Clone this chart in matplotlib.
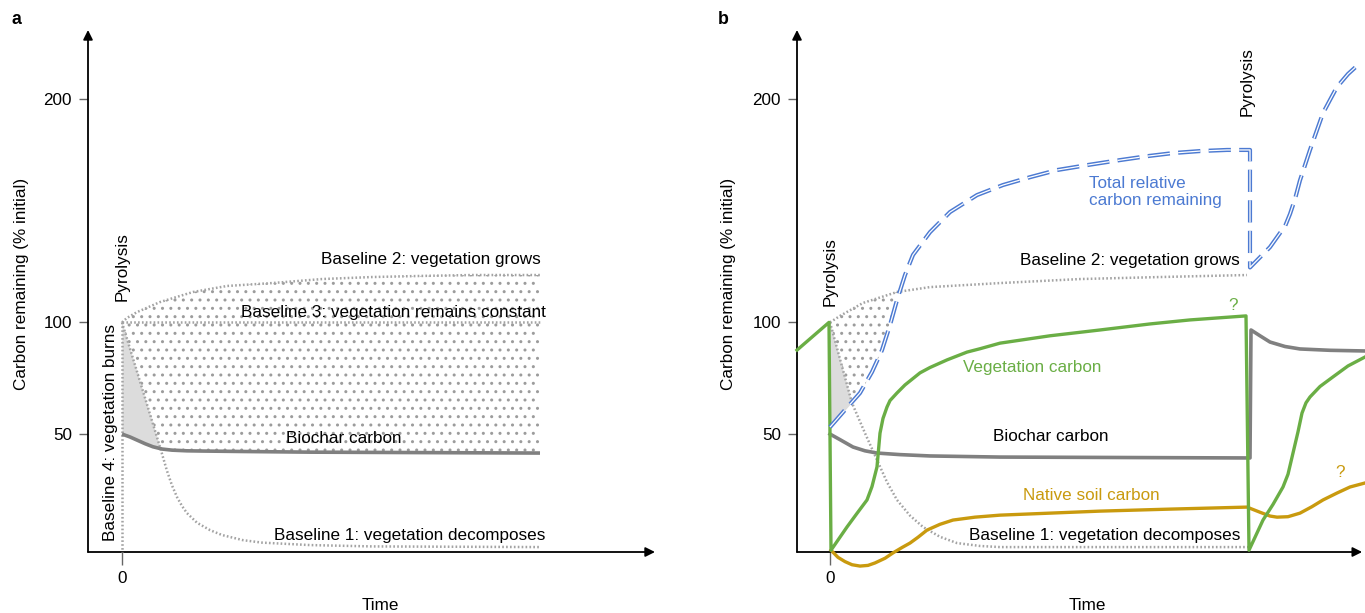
import numpy as np
import matplotlib.pyplot as plt

plt.rcParams['font.family'] = ['Liberation Sans', 'DejaVu Sans']
plt.rcParams['lines.scale_dashes'] = False

# time in arbitrary units (0 = pyrolysis), carbon in % of initial
# panel a
a_grow_t = [0, 0.05, 0.15, 0.38, 0.71, 1.05, 1.5, 2.0, 2.5, 3.0, 3.5, 4.18]
a_grow_v = [100, 102.0, 104.6, 109.1, 113.6, 116.3, 117.6, 119.4, 120.3, 120.8, 121.2, 121.2]
a_const_t = [0, 4.2]
a_const_v = [100, 100]
a_decomp_t = [0, 0.38, 0.45, 0.5, 0.55, 0.6, 0.65, 0.75, 0.88, 1.0, 1.21, 1.4, 1.88, 2.5, 4.18]
a_decomp_v = [100, 44.2, 33.5, 27.0, 21.8, 17.8, 14.6, 10.3, 7.0, 4.8, 2.5, 1.4, 0.3, -0.3, -0.6]
a_burn_t = [0, 0]
a_burn_v = [100, -2.8]
a_char_t = [0, 0.08, 0.15, 0.23, 0.31, 0.4, 0.5, 0.65, 0.8, 1.2, 1.88, 3.0, 4.18]
a_char_v = [50, 48.7, 47.3, 45.7, 44.3, 43.3, 42.8, 42.5, 42.4, 42.2, 41.9, 41.7, 41.5]

# panel b
b_grow_t = [0, 0.1, 0.33, 0.67, 1.0, 1.7, 2.5, 3.3, 4.17]
b_grow_v = [100, 102.9, 108.7, 113.6, 115.8, 117.6, 119.4, 120.3, 121.2]
b_decomp_t = [0, 0.22, 0.35, 0.47, 0.57, 0.67, 0.8, 0.93, 1.1, 1.27, 1.5, 1.7, 4.2]
b_decomp_v = [100, 63.9, 50.4, 38.4, 28.5, 20.5, 13.5, 8.4, 4.0, 1.2, -0.1, -0.6, -0.6]
b_veg_t = [-0.33, -0.01, 0.01, 0.17, 0.27, 0.37, 0.42, 0.47, 0.50, 0.53, 0.57, 0.60, 0.67,
           0.75, 0.90, 1.0, 1.17, 1.37, 1.5, 1.70, 2.2, 2.7, 3.2, 3.6, 4.16,
           4.19, 4.33, 4.43, 4.53, 4.58, 4.63, 4.68, 4.72, 4.76, 4.80, 4.9, 5.03, 5.18, 5.35]
b_veg_v = [87.6, 100, -2.0, 8.4, 14.5, 20.5, 26.5, 35.3, 50.4, 57.0, 62.1, 65.0, 68.4,
           72.0, 77.4, 79.8, 83.2, 86.7, 88.2, 90.7, 94.0, 96.6, 99.3, 101.1, 102.9,
           -2.0, 11.5, 18.5, 26.3, 32.0, 41.5, 51.0, 59.4, 64.0, 66.6, 71.3, 75.6, 80.5, 84.5]
b_char_t = [0, 0.1, 0.23, 0.35, 0.47, 0.7, 1.0, 1.7, 4.2,
            4.21, 4.3, 4.4, 4.55, 4.7, 5.0, 5.35]
b_char_v = [50, 47.5, 44.2, 42.5, 41.5, 40.8, 40.2, 39.7, 39.3,
            96.6, 94.0, 91.2, 89.2, 88.1, 87.5, 87.2]
b_soil_t = [0.01, 0.08, 0.15, 0.22, 0.30, 0.38, 0.45, 0.55, 0.63, 0.72, 0.80, 0.88, 0.97,
            1.1, 1.23, 1.45, 1.70, 2.2, 2.7, 3.4, 4.17,
            4.3, 4.4, 4.47, 4.58, 4.70, 4.82, 4.93, 5.07, 5.20, 5.35]
b_soil_v = [-2.0, -5.2, -7.1, -8.5, -9.1, -8.8, -7.7, -5.6, -3.2, -0.8, 1.2, 3.8, 7.0,
            9.6, 11.5, 12.8, 13.7, 14.6, 15.5, 16.4, 17.3,
            15.0, 13.3, 12.8, 13.0, 14.6, 17.5, 20.5, 23.6, 26.3, 28.1]
b_total_t = [0, 0.15, 0.30, 0.42, 0.52, 0.60, 0.67, 0.75, 0.83, 1.0, 1.2, 1.47, 1.73, 2.0,
             2.27, 2.57, 2.83, 3.17, 3.43, 3.7, 3.97, 4.2,
             4.2, 4.4, 4.5, 4.55, 4.6, 4.65, 4.7, 4.75, 4.8, 4.87, 4.93, 5.0, 5.07, 5.18, 5.30]
b_total_v = [53.1, 60.8, 68.4, 77.8, 87.6, 98.8, 110.0, 121.2, 130.2, 140.4, 149.4, 157.0,
             161.5, 165.0, 168.2, 170.4, 172.2, 174.4, 175.8, 176.7, 177.2, 177.2,
             124.6, 133.7, 140.0, 143.0, 148.5, 155.2, 163.6, 170.4, 177.2, 186.1, 193.7,
             199.6, 205.4, 211.2, 216.1]

yticks = [50, 100, 200]

GREEN = '#6aae45'
GOLD = '#c99a0e'
BLUE = '#4c7ad2'
CHAR = '#808080'
DOT = '#a3a3a3'
HATCH = '#9c9c9c'
FS = 12.3

W, H = 1365, 613
fig = plt.figure(figsize=(W / 100, H / 100), dpi=100)
ax_a = fig.add_axes([88 / W, 1 - 552 / H, (655 - 88) / W, (552 - 30) / H])
ax_b = fig.add_axes([797 / W, 1 - 552 / H, (1365 - 797) / W, (552 - 30) / H])


def frame(ax, xlim, tip):
    ax.set_xlim(xlim)
    ax.set_ylim(-2.8, 230.9)
    for s in ax.spines.values():
        s.set_visible(False)
    arrow = dict(arrowstyle='-|>', color='black', lw=1.3, mutation_scale=14,
                 shrinkA=0, shrinkB=0)
    ax.annotate('', xy=(tip, 0), xytext=(0, 0), xycoords='axes fraction',
                arrowprops=arrow, annotation_clip=False)
    ax.annotate('', xy=(0, 1), xytext=(0, 0), xycoords='axes fraction',
                arrowprops=arrow, annotation_clip=False)
    ax.set_yticks(yticks)
    ax.set_yticklabels([str(v) for v in yticks])
    ax.set_xticks([0])
    ax.set_xticklabels(['0'])
    ax.tick_params(axis='y', length=6.5, width=1, color='#666666', pad=5, labelsize=FS)
    ax.tick_params(axis='x', length=9, width=1, color='#666666', pad=5, labelsize=FS)


def dotted(ax, t, v, **kw):
    ax.plot(t, v, color=DOT, lw=1.8, linestyle=(0, (1.2, 1.6)), zorder=3, **kw)


frame(ax_a, (-0.34, 5.33), 1.0)
frame(ax_b, (-0.33, 5.35), 0.995)

# ---- panel a ----
tt = np.linspace(0, a_grow_t[-1], 400)
top = np.interp(tt, a_grow_t, a_grow_v)
bot = np.interp(tt, a_char_t, a_char_v)
ax_a.fill_between(tt, bot, top, facecolor='none', edgecolor=HATCH, hatch='..',
                  linewidth=0, zorder=1)
tt = np.linspace(0, 0.6, 200)
b1 = np.interp(tt, a_decomp_t, a_decomp_v)
bc = np.interp(tt, a_char_t, a_char_v)
ax_a.fill_between(tt, bc, b1, where=b1 >= bc, interpolate=True, color='#dcdcdc',
                  linewidth=0, zorder=2)

dotted(ax_a, a_grow_t, a_grow_v)
dotted(ax_a, a_const_t, a_const_v)
dotted(ax_a, a_decomp_t, a_decomp_v)
dotted(ax_a, a_burn_t, a_burn_v, clip_on=False)
ax_a.plot(a_char_t, a_char_v, color=CHAR, lw=2.6, zorder=4, solid_capstyle='butt')

ax_a.text(0, 125.2, 'Pyrolysis', rotation=90, ha='center', va='center', fontsize=FS)
ax_a.text(-0.12, 50.8, 'Baseline 4: vegetation burns', rotation=90, ha='center',
          va='center', fontsize=FS)
ax_a.text(4.19, 128.0, 'Baseline 2: vegetation grows', ha='right', va='center', fontsize=FS)
ax_a.text(4.24, 104.6, 'Baseline 3: vegetation remains constant', ha='right', va='center',
          fontsize=FS)
ax_a.text(2.22, 48.2, 'Biochar carbon', ha='center', va='center', fontsize=FS)
ax_a.text(4.23, 4.8, 'Baseline 1: vegetation decomposes', ha='right', va='center', fontsize=FS)

# ---- panel b ----
n_rise = 22
tt = np.linspace(0, 0.8, 300)
top = np.interp(tt, b_grow_t, b_grow_v)
blue = np.interp(tt, b_total_t[:n_rise], b_total_v[:n_rise])
ax_b.fill_between(tt, blue, top, where=top >= blue, interpolate=True, facecolor='none',
                  edgecolor=HATCH, hatch='..', linewidth=0, zorder=1)
b1 = np.interp(tt, b_decomp_t, b_decomp_v)
ax_b.fill_between(tt, blue, b1, where=b1 >= blue, interpolate=True, color='#dcdcdc',
                  linewidth=0, zorder=2)

dotted(ax_b, b_grow_t, b_grow_v)
dotted(ax_b, b_decomp_t, b_decomp_v)
ax_b.plot(b_char_t, b_char_v, color=CHAR, lw=2.6, zorder=4, clip_on=False)
ax_b.plot(b_soil_t, b_soil_v, color=GOLD, lw=2.4, zorder=5, clip_on=False)
ax_b.plot(b_veg_t, b_veg_v, color=GREEN, lw=2.4, zorder=6, clip_on=False)
ax_b.plot(b_total_t, b_total_v, color=BLUE, lw=3.0, linestyle=(0, (16, 6)), zorder=7,
          clip_on=False)
ax_b.plot(b_total_t, b_total_v, color='white', lw=0.9, linestyle=(0, (16, 6)), zorder=8,
          clip_on=False)

ax_b.text(0, 122.9, 'Pyrolysis', rotation=90, ha='center', va='center', fontsize=FS)
ax_b.text(4.17, 207.6, 'Pyrolysis', rotation=90, ha='center', va='center', fontsize=FS)
ax_b.text(2.59, 158.4, 'Total relative\ncarbon remaining', ha='left', va='center',
          fontsize=FS, color=BLUE, linespacing=1.15)
ax_b.text(4.10, 127.9, 'Baseline 2: vegetation grows', ha='right', va='center', fontsize=FS)
ax_b.text(1.33, 79.6, 'Vegetation carbon', ha='left', va='center', fontsize=FS, color=GREEN)
ax_b.text(1.63, 48.7, 'Biochar carbon', ha='left', va='center', fontsize=FS)
ax_b.text(1.93, 22.3, 'Native soil carbon', ha='left', va='center', fontsize=FS, color=GOLD)
ax_b.text(4.03, 107.7, '?', ha='center', va='center', fontsize=FS, color=GREEN)
ax_b.text(5.10, 32.6, '?', ha='center', va='center', fontsize=FS, color=GOLD)
ax_b.text(4.10, 4.8, 'Baseline 1: vegetation decomposes', ha='right', va='center', fontsize=FS)

# axis titles and panel letters
for x0, xc in [(22, 380), (729, 1087)]:
    fig.text(x0 / W, 1 - 284 / H, 'Carbon remaining (% initial)', rotation=90,
             ha='center', va='center', fontsize=FS)
    fig.text(xc / W, 1 - 605 / H, 'Time', ha='center', va='center', fontsize=FS)
fig.text(12 / W, 1 - 20 / H, 'a', ha='left', va='center', fontsize=FS + 0.5, fontweight='bold')
fig.text(718 / W, 1 - 20 / H, 'b', ha='left', va='center', fontsize=FS + 0.5, fontweight='bold')

fig.savefig('out.png', dpi=100)
plt.close(fig)
